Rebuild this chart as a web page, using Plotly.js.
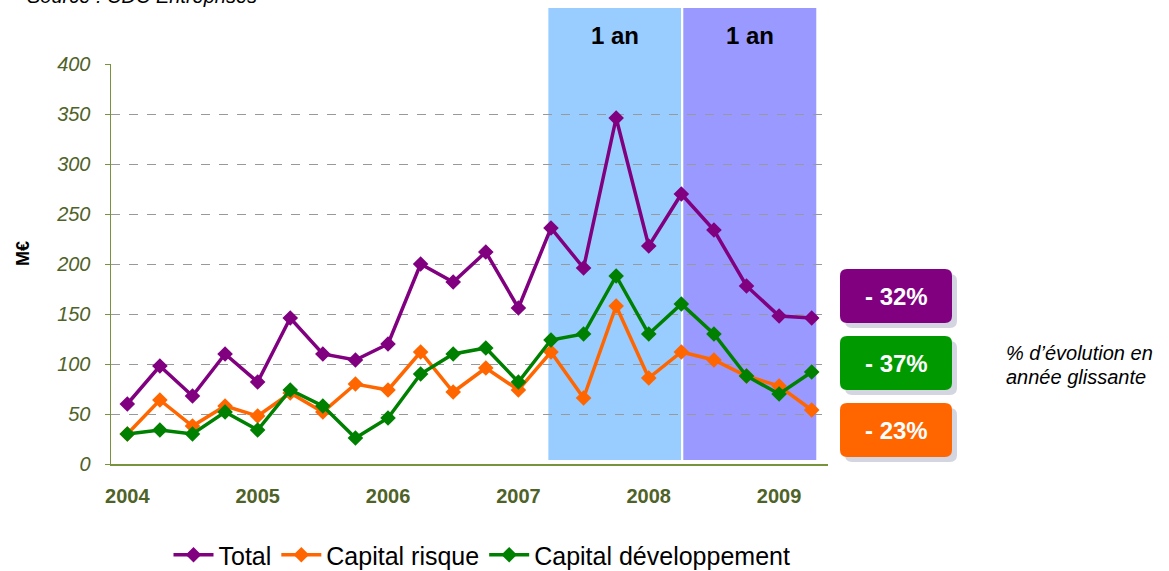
<!DOCTYPE html>
<html>
<head>
<meta charset="utf-8">
<script src="https://cdn.plot.ly/plotly-3.0.1.min.js"></script>
<style>html,body{margin:0;padding:0;background:#fff;}#chart{width:1169px;height:571px;}</style>
</head>
<body>
<div id="chart"></div>
<script>
// ---- Data ----
const periods = ['2004 T1','2004 T2','2004 T3','2004 T4','2005 T1','2005 T2','2005 T3','2005 T4',
                 '2006 T1','2006 T2','2006 T3','2006 T4','2007 T1','2007 T2','2007 T3','2007 T4',
                 '2008 T1','2008 T2','2008 T3','2008 T4','2009 T1','2009 T2'];
const total   = [60, 98, 68, 110, 82, 146, 110, 104, 120, 200, 182, 212, 156, 236, 196, 346, 218, 270, 234, 178, 148, 146];
const risque  = [30, 64, 38, 58, 48, 71, 52, 80, 74, 112, 72, 96, 74, 112, 66, 158, 86, 112, 104, 88, 78, 54];
const develop = [30, 34, 30, 52, 34, 74, 58, 26, 46, 90, 110, 116, 82, 124, 130, 188, 130, 160, 130, 88, 70, 92];
const yearTickVals = ['2004 T1','2005 T1','2006 T1','2007 T1','2008 T1','2009 T1'];
const yearTickText = ['2004','2005','2006','2007','2008','2009'];
const yTickVals = [0, 50, 100, 150, 200, 250, 300, 350, 400];
const seriesNames = ['Total', 'Capital risque', 'Capital développement'];
const evolution = ['- 32%', '- 37%', '- 23%'];
const bandLabels = ['1 an', '1 an'];

// ---- Styling ----
const FONT = 'Liberation Sans, Arial, sans-serif';
const colors = ['#800080', '#FF6600', '#008000'];
const boxColors = ['#800080', '#009900', '#FF6600'];
const olive = '#4F6228';
const axisLine = '#77933C';

const W = 1169, H = 571;
const M = {l: 111, r: 341, t: 64, b: 107, autoexpand: false};
const PW = W - M.l - M.r, PH = H - M.t - M.b;
const X = px => (px - M.l) / PW;
const Y = py => (H - M.b - py) / PH;

const series = [total, risque, develop];
const traces = series.map((vals, i) => ({
  x: periods, y: vals, name: seriesNames[i], type: 'scatter', mode: 'lines+markers',
  line: {color: colors[i], width: 3.5},
  marker: {symbol: 'diamond', size: 12, color: colors[i]},
  hoverinfo: 'skip', cliponaxis: false
}));

function rrect(x0, y0, x1, y1, r) {
  const p = (x, y) => X(x) + ',' + Y(y);
  return 'M' + p(x0 + r, y0) + ' L' + p(x1 - r, y0) + ' Q' + p(x1, y0) + ' ' + p(x1, y0 + r) +
         ' L' + p(x1, y1 - r) + ' Q' + p(x1, y1) + ' ' + p(x1 - r, y1) +
         ' L' + p(x0 + r, y1) + ' Q' + p(x0, y1) + ' ' + p(x0, y1 - r) +
         ' L' + p(x0, y0 + r) + ' Q' + p(x0, y0) + ' ' + p(x0 + r, y0) + ' Z';
}

const bands = [[12.92, 16.99], [17.06, 21.14]];
const bandColors = ['#99CCFF', '#9999FF'];
const shapes = bands.map((b, i) => ({
  type: 'rect', xref: 'x', yref: 'paper', x0: b[0], x1: b[1], y0: Y(460), y1: Y(8),
  fillcolor: bandColors[i], line: {width: 0}, layer: 'below'
}));
const boxTops = [269, 336, 403];
const boxH = 54;
boxTops.forEach((t, i) => {
  shapes.push({type: 'path', xref: 'paper', yref: 'paper', path: rrect(845, t + 5, 957, t + boxH + 5, 7),
               fillcolor: '#D3D6E0', line: {width: 0}, layer: 'above'});
  shapes.push({type: 'path', xref: 'paper', yref: 'paper', path: rrect(840, t, 952, t + boxH, 7),
               fillcolor: boxColors[i], line: {width: 0}, layer: 'above'});
});

const annotations = [
  {xref: 'paper', yref: 'paper', x: X(25), y: Y(-4), xanchor: 'left', yanchor: 'middle', showarrow: false,
   text: 'Source : CDC Entreprises', font: {family: FONT, size: 20, style: 'italic', color: '#000'}},
  {xref: 'paper', yref: 'paper', x: X(23), y: Y(254), xanchor: 'center', yanchor: 'middle', textangle: -90, showarrow: false,
   text: 'M€', font: {family: FONT, size: 18, weight: 'bold', color: '#000'}},
  {xref: 'paper', yref: 'paper', x: X(1004), y: Y(353), xanchor: 'left', yanchor: 'middle', showarrow: false,
   text: '% d’évolution en', font: {family: FONT, size: 20, style: 'italic', color: '#000'}},
  {xref: 'paper', yref: 'paper', x: X(1004), y: Y(377), xanchor: 'left', yanchor: 'middle', showarrow: false,
   text: 'année glissante', font: {family: FONT, size: 20, style: 'italic', color: '#000'}}
];
bands.forEach((b, i) => {
  annotations.push({xref: 'x', yref: 'paper', x: (b[0] + b[1]) / 2, y: Y(35), xanchor: 'center', yanchor: 'middle',
    showarrow: false, text: bandLabels[i], font: {family: FONT, size: 24, weight: 'bold', color: '#000'}});
});
boxTops.forEach((t, i) => {
  annotations.push({xref: 'paper', yref: 'paper', x: X(896), y: Y(t + boxH / 2), xanchor: 'center', yanchor: 'middle',
    showarrow: false, text: evolution[i], font: {family: FONT, size: 24, weight: 'bold', color: '#fff'}});
});

const layout = {
  width: W, height: H,
  margin: M,
  paper_bgcolor: '#fff', plot_bgcolor: 'rgba(0,0,0,0)',
  font: {family: FONT},
  showlegend: true,
  legend: {orientation: 'h', x: X(482), xanchor: 'center', y: Y(555), yanchor: 'middle',
           font: {family: FONT, size: 25, color: '#000'}, itemwidth: 40, bgcolor: 'rgba(0,0,0,0)'},
  xaxis: {
    type: 'category', range: [-0.5, 21.5], fixedrange: true,
    tickmode: 'array', tickvals: yearTickVals, ticktext: yearTickText,
    showgrid: false, zeroline: false, showline: true, linecolor: axisLine, linewidth: 1.5,
    ticks: '', ticklabelstandoff: 13,
    tickfont: {family: FONT, size: 20, weight: 'bold', color: olive}
  },
  yaxis: {
    range: [0, 400], fixedrange: true,
    tickmode: 'array', tickvals: yTickVals,
    showgrid: true, gridcolor: '#999999', griddash: 'dash', gridwidth: 1,
    zeroline: false, showline: true, linecolor: axisLine, linewidth: 1.5,
    ticks: 'outside', ticklen: 5, tickcolor: axisLine, ticklabelstandoff: 10,
    tickfont: {family: FONT, size: 20, style: 'italic', color: olive}
  },
  shapes: shapes,
  annotations: annotations
};

Plotly.newPlot('chart', traces, layout, {displayModeBar: false, staticPlot: true});
</script>
</body>
</html>
